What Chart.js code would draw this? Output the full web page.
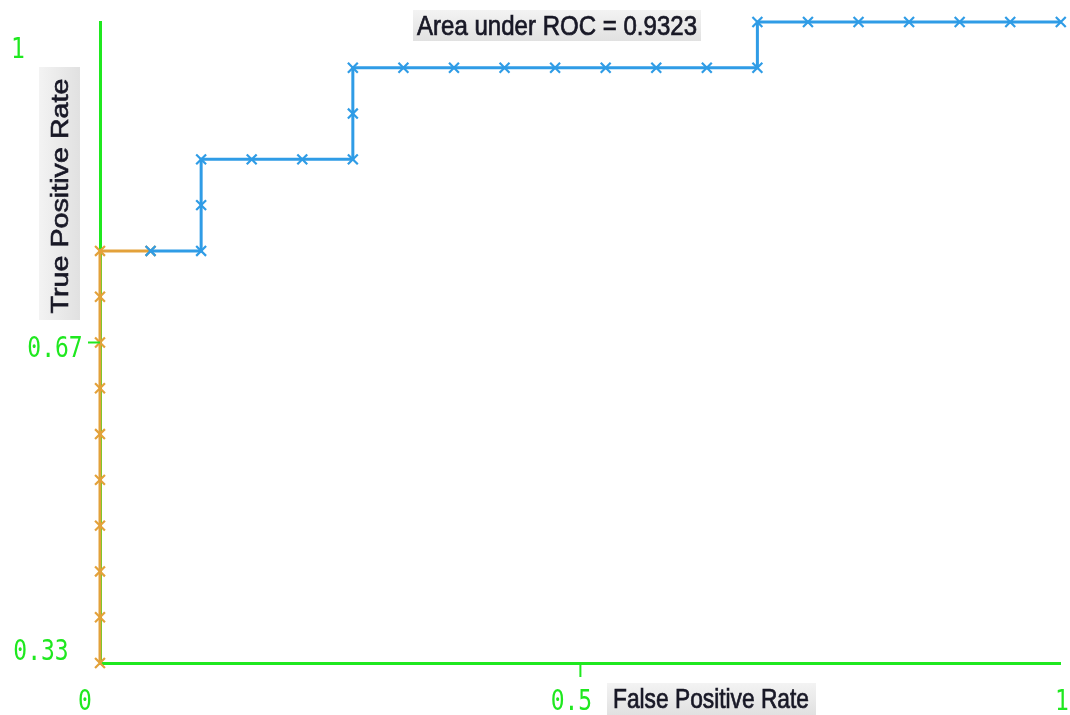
<!DOCTYPE html>
<html>
<head>
<meta charset="utf-8">
<script src="https://cdn.jsdelivr.net/npm/chart.js@4/dist/chart.umd.min.js"></script>
<style>
  html, body { margin: 0; padding: 0; background: #ffffff; }
  canvas { display: block; }
</style>
</head>
<body>
<canvas id="roc" width="1070" height="715"></canvas>
<script>
// ROC curve points (false positive rate, true positive rate).
// Low-threshold part of the curve (drawn in orange).
const lowFpr = [0, 0, 0, 0, 0, 0, 0, 0, 0, 0, 1/19];
const lowTpr = [7/21, 8/21, 9/21, 10/21, 11/21, 12/21, 13/21, 14/21, 15/21, 16/21, 16/21];

// High-threshold part of the curve (drawn in blue).
const highFpr = [1/19, 2/19, 2/19, 2/19, 3/19, 4/19, 5/19, 5/19, 5/19,
                 6/19, 7/19, 8/19, 9/19, 10/19, 11/19, 12/19, 13/19, 13/19,
                 14/19, 15/19, 16/19, 17/19, 18/19, 19/19];
const highTpr = [16/21, 16/21, 17/21, 18/21, 18/21, 18/21, 18/21, 19/21, 20/21,
                 20/21, 20/21, 20/21, 20/21, 20/21, 20/21, 20/21, 20/21, 21/21,
                 1, 1, 1, 1, 1, 1];

// Axis tick values and their labels.
const xTickValues = [0, 0.5, 1];
const xTickLabels = ['0', '0.5', '1'];
const yTickValues = [1/3, 2/3, 1];
const yTickLabels = ['0.33', '0.67', '1'];

const aucText = 'Area under ROC = 0.9323';
const xTitle = 'False Positive Rate';
const yTitle = 'True Positive Rate';

const toPoints = (xs, ys) => xs.map((x, i) => ({ x: x, y: ys[i] }));

const GREEN = '#1fe81f';
const BLUE = '#2f9ce6';
const ORANGE = '#e3a13a';
const TEXT = '#181826';
const STRETCH = 1.2;   // text is drawn taller than wide

// Draw text with separate horizontal/vertical scaling, optionally rotated.
function drawText(ctx, text, x, y, opts) {
  ctx.save();
  ctx.translate(x, y);
  if (opts.rotate) ctx.rotate(opts.rotate);
  ctx.font = opts.font;
  ctx.fillStyle = opts.color;
  ctx.textAlign = opts.align || 'center';
  ctx.textBaseline = opts.baseline || 'alphabetic';
  ctx.scale(opts.sx || 1, opts.sy || 1);
  ctx.fillText(text, 0, 0);
  if (opts.heavy) {
    ctx.strokeStyle = opts.color;
    ctx.lineWidth = opts.heavy;
    ctx.strokeText(text, 0, 0);
  }
  ctx.restore();
}

// Label box behind an axis / chart title.
function drawBox(ctx, x, y, w, h, vertical) {
  const g = vertical ? ctx.createLinearGradient(x, 0, x + w, 0)
                     : ctx.createLinearGradient(0, y, 0, y + h);
  g.addColorStop(0, '#f3f3f3');
  g.addColorStop(1, '#e1e1e1');
  ctx.fillStyle = g;
  ctx.fillRect(x, y, w, h);
}

const rocDecorations = {
  id: 'rocDecorations',
  afterDraw(chart) {
    const ctx = chart.ctx;
    const xs = chart.scales.x;
    const ys = chart.scales.y;
    const area = chart.chartArea;
    const monoFont = '23px "DejaVu Sans Mono", "Liberation Mono", monospace';
    const sansFont = '23px "Liberation Sans", Arial, sans-serif';

    // Small tick marks on the inner tick positions.
    ctx.save();
    ctx.strokeStyle = GREEN;
    ctx.lineWidth = 2;
    ctx.beginPath();
    const yMid = ys.getPixelForValue(yTickValues[1]);
    ctx.moveTo(area.left - 12, yMid); ctx.lineTo(area.left, yMid);
    const xMid = xs.getPixelForValue(xTickValues[1]);
    ctx.moveTo(xMid, area.bottom); ctx.lineTo(xMid, area.bottom + 14);
    ctx.stroke();
    ctx.restore();

    // Y tick labels (placed left of the axis, kept inside the plot height).
    const yLabelPos = [
      { dx: -59, dy: -3 },   // 0.33
      { dx: -45, dy: 14 },   // 0.67
      { dx: -82, dy: 36 }    // 1
    ];
    yTickValues.forEach((v, i) => {
      const py = ys.getPixelForValue(v);
      drawText(ctx, yTickLabels[i], area.left + yLabelPos[i].dx, py + yLabelPos[i].dy,
        { font: monoFont, color: GREEN, sy: STRETCH });
    });

    // X tick labels.
    const xLabelDx = [-15, -9, 1];
    xTickValues.forEach((v, i) => {
      const px = xs.getPixelForValue(v);
      drawText(ctx, xTickLabels[i], px + xLabelDx[i], area.bottom + 47,
        { font: monoFont, color: GREEN, sy: STRETCH });
    });

    // Title: area under the curve.
    ctx.save();
    ctx.font = sansFont;
    const aucW = ctx.measureText(aucText).width;
    const aucSx = 280 / aucW;
    ctx.restore();
    const aucCx = 557;
    drawBox(ctx, aucCx - 144, 10, 288, 31, false);
    drawText(ctx, aucText, aucCx, 35, { font: sansFont, color: TEXT, sx: aucSx, sy: STRETCH, heavy: 0.6 });

    // X axis title.
    ctx.save();
    ctx.font = sansFont;
    const xtW = ctx.measureText(xTitle).width;
    ctx.restore();
    const xtSx = 196 / xtW;
    const xtCx = 711;
    drawBox(ctx, xtCx - 104, 683, 209, 32, false);
    drawText(ctx, xTitle, xtCx, 708, { font: sansFont, color: TEXT, sx: xtSx, sy: STRETCH, heavy: 0.6 });

    // Y axis title (rotated, reads bottom to top).
    ctx.save();
    ctx.font = sansFont;
    const ytW = ctx.measureText(yTitle).width;
    ctx.restore();
    const ytSx = 235 / ytW;
    const ytCy = 196;
    drawBox(ctx, 39, 67, 41, 253, true);
    drawText(ctx, yTitle, 68, ytCy, { font: sansFont, color: TEXT, rotate: -Math.PI / 2, sx: ytSx, heavy: 0.6 });
  }
};

new Chart(document.getElementById('roc'), {
  type: 'line',
  data: {
    datasets: [
      {
        label: 'high',
        data: toPoints(highFpr, highTpr),
        borderColor: BLUE,
        backgroundColor: BLUE,
        borderWidth: 3,
        pointStyle: 'crossRot',
        pointRadius: 7,
        pointBorderWidth: 2.2,
        pointBorderColor: BLUE,
        tension: 0,
        clip: false,
        order: 1
      },
      {
        label: 'low',
        data: toPoints(lowFpr, lowTpr),
        borderColor: ORANGE,
        backgroundColor: ORANGE,
        borderWidth: 3,
        pointStyle: 'crossRot',
        pointRadius: 7,
        pointBorderWidth: 2.2,
        pointBorderColor: ORANGE,
        tension: 0,
        clip: false,
        order: 2
      }
    ]
  },
  options: {
    responsive: false,
    animation: false,
    layout: { padding: { left: 100, right: 7, top: 22, bottom: 52 } },
    plugins: {
      legend: { display: false },
      tooltip: { enabled: false },
      title: { display: false }
    },
    scales: {
      x: {
        type: 'linear',
        min: 0,
        max: 1,
        grid: { display: false, drawTicks: false },
        ticks: { display: false },
        border: { display: true, color: GREEN, width: 3 }
      },
      y: {
        type: 'linear',
        min: 1/3,
        max: 1,
        grid: { display: false, drawTicks: false },
        ticks: { display: false },
        border: { display: true, color: GREEN, width: 3 }
      }
    }
  },
  plugins: [rocDecorations]
});
</script>
</body>
</html>
